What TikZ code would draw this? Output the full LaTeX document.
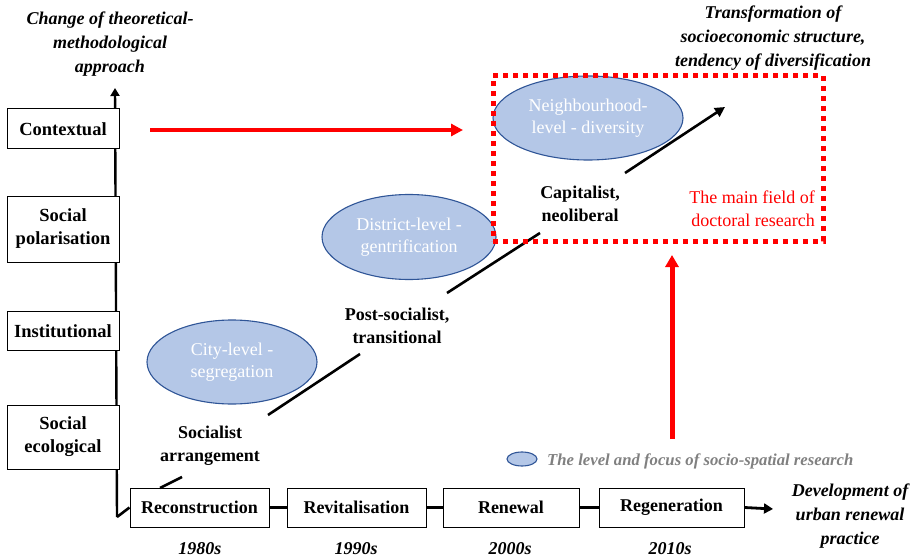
\documentclass[tikz,border=0pt]{standalone}
\usepackage{fontspec}
\setmainfont{Liberation Serif}
\usetikzlibrary{arrows.meta,shapes.geometric}
\definecolor{ellfill}{HTML}{B4C7E7}
\definecolor{ellborder}{HTML}{2F5597}
\definecolor{legendgrey}{HTML}{808080}
\definecolor{myred}{HTML}{FF0000}
\tikzset{
  txt/.style={font=\fontsize{18}{23}\selectfont, align=center, inner sep=0pt},
  boldtxt/.style={txt, font=\fontsize{18}{23}\selectfont\bfseries},
  titletxt/.style={txt, font=\fontsize{18}{24}\selectfont\bfseries\itshape},
  axisbox/.style={draw=black, line width=1pt, fill=white, rectangle, inner sep=0pt,
    font=\fontsize{18.5}{23}\selectfont\bfseries, align=center, minimum width=112pt},
  stagebox/.style={draw=black, line width=1pt, fill=white, rectangle, inner sep=0pt,
    font=\fontsize{18}{23}\selectfont\bfseries, minimum height=39pt},
  focus/.style={ellipse, draw=ellborder, line width=1.1pt, fill=ellfill, inner sep=0pt,
    text=white, font=\fontsize{18}{22}\selectfont, align=center},
  axisline/.style={line width=2.6pt, black},
  redarrow/.style={myred, line width=3.5pt, -{Triangle[width=12pt,length=12pt]}},
  yearlbl/.style={txt, font=\fontsize{18}{22}\selectfont\bfseries\itshape},
}
\begin{document}
\begin{tikzpicture}[x=1pt,y=-1pt]
\useasboundingbox (0,0) rectangle (924,559);

% titles
\node[titletxt] (ytitle) at (110,44) {Change of theoretical-\\methodological\\approach};
\node[titletxt] (ttitle) at (773,38) {Transformation of\\socioeconomic structure,\\tendency of diversification};
\node[titletxt] (xtitle) at (850,516) {Development of\\urban renewal\\practice};

% vertical axis
\coordinate (axbot) at (117,517);
\coordinate (axtop) at (115,88);
\draw[line width=2.4pt, -{Triangle[width=9pt,length=8pt]}] (axbot) -- (axtop);

% left boxes
\node[axisbox, minimum height=40pt] (ctx) at (63,129) {Contextual};
\node[axisbox, minimum height=66pt] (pol) at (63,229) {Social\\polarisation};
\node[axisbox, minimum height=39pt] (inst) at (63,331) {Institutional};
\node[axisbox, minimum height=64pt] (eco) at (63,437) {Social\\ecological};

% bottom boxes
\node[stagebox, minimum width=139pt] (recon) at (199.5,507.5) {Reconstruction};
\node[stagebox, minimum width=139pt] (revit) at (356.5,507.5) {Revitalisation};
\node[stagebox, minimum width=136pt] (renew) at (511,507.5) {Renewal};
\node[stagebox, minimum width=145pt] (regen) at (671.5,507.5) {Regeneration};
\coordinate (xend) at (773,509);

\draw[axisline] (axbot) -- (recon.west);
\draw[axisline] (recon.east) -- (revit.west);
\draw[axisline] (revit.east) -- (renew.west);
\draw[axisline] (renew.east) -- (regen.west);
\draw[line width=2.8pt, -{Triangle[width=10pt,length=9pt]}] (regen.east) -- (xend);

% years
\node[yearlbl] (y1) at (200,549) {1980s};
\node[yearlbl] (y2) at (356,549) {1990s};
\node[yearlbl] (y3) at (510,549) {2000s};
\node[yearlbl] (y4) at (670,549) {2010s};

% ellipses
\node[focus, minimum width=170pt, minimum height=84pt] (city) at (232,362) {City-level -\\segregation};
\node[focus, minimum width=174pt, minimum height=85pt] (dist) at (409,237) {District-level -\\gentrification};
\node[focus, minimum width=190pt, minimum height=84pt] (nbh) at (588,118) {Neighbourhood-\\level - diversity};

% diagonal trend line with labels
\node[boldtxt] (soc) at (210,446) {Socialist\\arrangement};
\node[boldtxt] (post) at (397,326) {Post-socialist,\\transitional};
\node[boldtxt] (cap) at (580,204) {Capitalist,\\neoliberal};
\coordinate (d0) at (160,488);
\coordinate (d1) at (182,477);
\coordinate (d2) at (268,415);
\coordinate (d3) at (360,354);
\coordinate (d4) at (447,293);
\coordinate (d5) at (540,233);
\coordinate (d6) at (625,173);
\coordinate (d7) at (725,107);
\draw[line width=2.6pt] (d0) -- (d1);
\draw[line width=2.6pt] (d2) -- (d3);
\draw[line width=2.6pt] (d4) -- (d5);
\draw[line width=2.6pt, -{Triangle[width=10pt,length=10pt]}] (d6) -- (d7);

% red field
\node[draw=myred, line width=5pt, dash pattern=on 5pt off 5pt, rectangle,
  minimum width=330pt, minimum height=165pt, inner sep=0pt] (field) at (658,158.5) {};
\node[txt, text=myred, align=right, anchor=east] (fieldlbl) at (815,209) {The main field of\\doctoral research};

% red arrows
\coordinate (ra0) at (150,130);
\coordinate (ra1) at (463,130);
\draw[redarrow] (ra0) -- (ra1);
\coordinate (ru0) at (672,439);
\coordinate (ru1) at (672,255);
\draw[myred, line width=5pt, -{Triangle[width=13pt,length=12pt]}] (ru0) -- (ru1);

% legend
\node[ellipse, draw=ellborder, line width=1.1pt, fill=ellfill, minimum width=30pt, minimum height=14pt, inner sep=0pt] (legell) at (522,459) {};
\node[txt, anchor=west, text=legendgrey, font=\fontsize{16.7}{20}\selectfont\bfseries\itshape] (legtxt) at (547,461) {The level and focus of socio-spatial research};

\end{tikzpicture}
\end{document}
